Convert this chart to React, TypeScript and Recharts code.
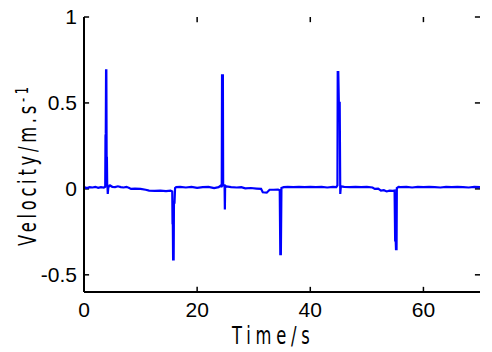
import { LineChart, Line, XAxis, YAxis, ReferenceLine } from "recharts";

const time = [
  0, 0.5, 1, 1.5, 2, 2.5, 3, 3.5, 3.75, 3.8, 3.85, 3.9, 3.95, 4.0, 4.05, 4.1, 4.15, 4.2, 4.3, 4.6,
  5, 5.5, 6, 6.5, 7, 7.5, 8, 8.3, 9, 10, 10.9, 11.5, 12.5, 13.5, 14.5, 15.3, 15.6, 15.65, 15.7,
  15.75, 15.85, 15.9, 16.0, 16.1, 16.3, 17, 18, 19, 20, 21, 22, 23, 23.8, 24.2, 24.35, 24.4,
  24.55, 24.6, 24.85, 24.9, 24.95, 25.0, 25.2, 26, 27, 27.8, 28.5, 29.5, 30.5, 31.3, 31.6, 32.3,
  32.8, 33.5, 34.3, 34.6, 34.7, 34.8, 34.9, 35.3, 36, 37, 38, 39, 40, 41, 42, 43, 44, 44.6,
  44.8, 44.85, 44.95, 45.05, 45.1, 45.2, 45.3, 45.4, 46, 47, 48, 49, 50, 51, 51.4, 52, 52.5, 53,
  53.5, 54, 54.6, 54.9, 55.0, 55.1, 55.15, 55.25, 55.3, 55.6, 56, 57, 58, 59, 60, 61, 62, 63, 64,
  65, 66, 67, 68, 69, 70,
];

const velocity = [
  0.01, 0.005, 0.01, 0.008, 0.012, 0.006, 0.01, 0.008, 0.012, 0.31, 0.32, 0.69, 0.69, 0.18, 0.18,
  0.02, 0.02, -0.03, 0.01, 0.02, 0.012, 0.01, 0.015, 0.01, 0.008, 0.012, 0.005, 0.0, 0.002, 0.0,
  -0.005, -0.01, -0.012, -0.01, -0.013, -0.01, -0.015, -0.2, -0.2, -0.41, -0.41, -0.08, -0.08,
  0.005, 0.01, 0.012, 0.008, 0.012, 0.006, 0.01, 0.012, 0.005, 0.01, 0.02, 0.01, 0.66, 0.66, 0.02,
  0.02, -0.12, 0.02, 0.01, 0.015, 0.01, 0.008, 0.01, 0.003, 0.005, 0.002, 0.0, -0.02, -0.022,
  -0.005, -0.005, -0.004, -0.008, -0.38, -0.38, 0.005, 0.01, 0.012, 0.01, 0.012, 0.01, 0.012,
  0.01, 0.012, 0.008, 0.012, 0.01, 0.02, 0.68, 0.68, 0.5, 0.5, 0.5, -0.03, 0.015, 0.012, 0.01,
  0.012, 0.01, 0.012, 0.008, 0.0, 0.002, -0.01, -0.008, -0.015, -0.01, -0.012, -0.01, -0.3, -0.3,
  -0.35, -0.35, 0.005, 0.012, 0.01, 0.012, 0.008, 0.012, 0.01, 0.012, 0.01, 0.008, 0.012, 0.01,
  0.012, 0.01, 0.008, 0.012, 0.01,
];

const xTicks = [0, 20, 40, 60];
const yTicks = [-0.5, 0, 0.5, 1];
const xDomain = [0, 70];
const yDomain = [-0.6, 1];

const data = time.map((t, i) => ({ t, v: velocity[i] }));

// inward tick length, in data units (about 5px)
const xTickLen = 0.9;
const yTickLen = 0.03;

const tickFamily = "Liberation Sans";
const labelFamily = "DejaVu Sans";

const bottomTick = (props: any) => {
  const { x, y, payload } = props;
  return (
    <text x={x} y={y + 10} dy="0.71em" textAnchor="middle" fontFamily={tickFamily} fontSize={21} fill="#000">
      {payload.value}
    </text>
  );
};

const leftTick = (props: any) => {
  const { x, y, payload } = props;
  return (
    <text x={x - 7} y={y} dy="0.355em" textAnchor="end" fontFamily={tickFamily} fontSize={21} fill="#000">
      {payload.value}
    </text>
  );
};

export default function App() {
  return (
    <div style={{ position: "absolute", left: 0, top: 0, background: "#fff" }}>
      <LineChart
        width={492}
        height={352}
        data={data}
        margin={{ top: 17, right: 12, bottom: 0, left: 0 }}
      >
        <XAxis
          dataKey="t"
          type="number"
          domain={xDomain}
          ticks={xTicks}
          height={60}
          stroke="#000"
          strokeWidth={2}
          tickLine={false}
          tickSize={0}
          tickMargin={0}
          tick={bottomTick}
          label={{
            content: () => (
              <text
                transform="translate(232,344) scale(0.68,1)"
                fontFamily={labelFamily}
                fontSize={24}
                letterSpacing={7}
                fill="#000"
              >
                Time/s
              </text>
            ),
          }}
        />
        <XAxis
          xAxisId="top"
          orientation="top"
          dataKey="t"
          type="number"
          domain={xDomain}
          ticks={xTicks}
          height={0}
          stroke="#000"
          strokeWidth={2}
          tickLine={false}
          tick={false}
        />
        <YAxis
          type="number"
          domain={yDomain}
          ticks={yTicks}
          width={84}
          stroke="#000"
          strokeWidth={2}
          tickLine={false}
          tickSize={0}
          tickMargin={0}
          tick={leftTick}
          label={{
            content: () => (
              <text
                transform="translate(36,246) rotate(-90) scale(0.68,1)"
                fontFamily={labelFamily}
                fontSize={24}
                letterSpacing={5.5}
                fill="#000"
              >
                Velocity/m.s
                <tspan fontSize={17} dy={-8}>
                  -1
                </tspan>
              </text>
            ),
          }}
        />
        <YAxis
          yAxisId="right"
          orientation="right"
          type="number"
          domain={yDomain}
          ticks={yTicks}
          width={0}
          stroke="#000"
          strokeWidth={2.5}
          tickLine={false}
          tick={false}
        />
        {xTicks.map((v) => (
          <ReferenceLine
            key={`xb${v}`}
            segment={[{ x: v, y: yDomain[0] }, { x: v, y: yDomain[0] + yTickLen }]}
            stroke="#000"
            strokeWidth={1.5}
            ifOverflow="visible"
          />
        ))}
        {xTicks.map((v) => (
          <ReferenceLine
            key={`xt${v}`}
            segment={[{ x: v, y: yDomain[1] }, { x: v, y: yDomain[1] - yTickLen }]}
            stroke="#000"
            strokeWidth={1.5}
            ifOverflow="visible"
          />
        ))}
        {yTicks.map((v) => (
          <ReferenceLine
            key={`yl${v}`}
            segment={[{ x: xDomain[0], y: v }, { x: xDomain[0] + xTickLen, y: v }]}
            stroke="#000"
            strokeWidth={1.5}
            ifOverflow="visible"
          />
        ))}
        {yTicks.map((v) => (
          <ReferenceLine
            key={`yr${v}`}
            segment={[{ x: xDomain[1], y: v }, { x: xDomain[1] - xTickLen, y: v }]}
            stroke="#000"
            strokeWidth={1.5}
            ifOverflow="visible"
          />
        ))}
        <Line
          dataKey="v"
          type="linear"
          stroke="#0000ff"
          strokeWidth={2.2}
          dot={false}
          isAnimationActive={false}
        />
      </LineChart>
    </div>
  );
}
